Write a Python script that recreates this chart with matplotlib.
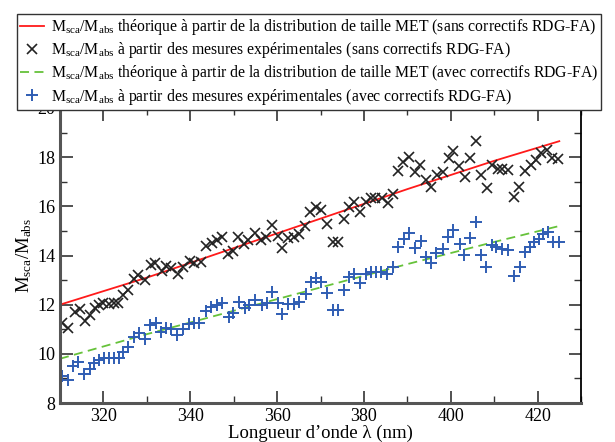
import numpy as np
import matplotlib
matplotlib.use('Agg')
import matplotlib.pyplot as plt
from matplotlib.ticker import MultipleLocator

plt.rcParams['font.family'] = ['Liberation Serif', 'DejaVu Serif']
plt.rcParams['mathtext.fontset'] = 'custom'
plt.rcParams['mathtext.rm'] = 'Liberation Serif'
plt.rcParams['mathtext.it'] = 'Liberation Serif:italic'

# courbes theoriques (distribution de taille MET)
lam_th = [310, 330, 350, 370, 390, 410, 425]
th_sans = [12.0, 13.1, 14.3, 15.5, 16.7, 17.85, 18.65]
th_avec = [9.8, 10.8, 11.75, 12.7, 13.65, 14.55, 15.2]

# mesures experimentales sans correctifs
lam_sans = [310.5, 311.9, 313.5, 314.5, 315.8, 316.9, 318.0, 319.0, 320.0, 321.3,
            322.4, 323.4, 324.6, 325.7, 327.1, 328.0, 329.6, 330.9, 331.9, 333.4,
            334.4, 335.6, 337.1, 338.4, 340.0, 340.9, 342.4, 343.6, 345.0, 346.1,
            347.3, 348.8, 349.9, 351.1, 352.4, 353.4, 354.9, 356.2, 357.4, 358.8,
            360.1, 361.2, 362.6, 363.8, 365.1, 366.5, 367.6, 368.9, 370.1, 371.4,
            372.8, 374.0, 375.3, 376.6, 377.8, 379.1, 380.4, 381.6, 382.6, 384.1,
            385.5, 386.6, 387.9, 389.1, 390.4, 391.8, 393.0, 394.3, 395.5, 396.9,
            398.1, 399.5, 400.6, 401.9, 403.3, 404.5, 405.8, 407.0, 408.3, 409.6,
            410.8, 411.9, 413.3, 414.6, 415.8, 417.1, 418.5, 419.6, 420.8, 422.1,
            423.4, 424.8]
exp_sans = [11.26, 11.05, 11.71, 11.83, 11.35, 11.56, 11.86, 12.0, 12.08, 12.02,
            12.05, 12.08, 12.4, 12.6, 13.03, 13.2, 13.0, 13.6, 13.7, 13.38,
            13.58, 13.5, 13.24, 13.52, 13.77, 13.68, 13.74, 14.39, 14.49, 14.63,
            14.76, 14.06, 14.2, 14.76, 14.46, 14.63, 14.9, 14.63, 14.76, 15.24,
            14.79, 14.31, 14.73, 14.76, 14.87, 15.2, 15.78, 15.96, 15.85, 15.3,
            14.56, 14.56, 15.48, 15.96, 16.18, 15.78, 16.18, 16.32, 16.35, 16.35,
            16.14, 16.5, 17.44, 17.81, 17.99, 17.4, 17.67, 17.07, 16.8, 17.27,
            17.4, 17.95, 18.26, 17.65, 17.2, 17.95, 18.66, 17.27, 16.73, 17.67,
            17.51, 17.51, 17.47, 16.36, 16.8, 17.43, 17.7, 17.88, 18.18, 18.3,
            17.95, 17.92]

# mesures experimentales avec correctifs
lam_avec = [310.4, 311.9, 313.1, 314.2, 315.5, 316.8, 317.9, 319.0, 320.2, 321.4,
            322.4, 323.6, 324.6, 325.7, 327.1, 328.2, 329.6, 330.7, 332.0, 333.3,
            334.4, 335.6, 336.9, 338.3, 339.6, 340.9, 342.1, 343.6, 344.7, 346.1,
            347.3, 348.9, 349.9, 351.2, 352.6, 353.6, 354.9, 356.5, 357.6, 358.8,
            360.1, 361.2, 362.6, 363.8, 365.1, 366.6, 367.8, 368.9, 370.1, 371.6,
            372.8, 374.1, 375.4, 376.6, 377.8, 379.1, 380.4, 381.6, 382.7, 383.9,
            385.3, 386.6, 387.9, 389.3, 390.3, 391.7, 393.1, 394.2, 395.5, 396.7,
            398.1, 399.4, 400.6, 402.1, 403.1, 404.4, 405.8, 406.9, 408.2, 409.4,
            410.5, 411.7, 413.1, 414.6, 415.9, 417.2, 418.2, 419.2, 420.3, 421.3,
            422.3, 423.6, 424.9]
exp_avec = [9.11, 8.93, 9.52, 9.68, 9.18, 9.37, 9.61, 9.75, 9.82, 9.82,
            9.82, 9.82, 10.09, 10.29, 10.67, 10.83, 10.59, 11.17, 11.26, 10.9,
            11.04, 11.0, 10.76, 11.0, 11.21, 11.24, 11.24, 11.75, 11.89, 11.98,
            12.08, 11.51, 11.67, 12.12, 11.85, 11.98, 12.19, 11.98, 12.08, 12.5,
            12.08, 11.62, 12.01, 12.01, 12.12, 12.43, 12.93, 13.07, 12.93, 12.46,
            11.78, 11.78, 12.59, 13.11, 13.24, 12.89, 13.24, 13.34, 13.34, 13.34,
            13.24, 13.54, 14.35, 14.69, 14.9, 14.29, 14.6, 13.95, 13.68, 14.09,
            14.25, 14.76, 15.03, 14.45, 14.04, 14.72, 15.37, 14.04, 13.54, 14.42,
            14.35, 14.26, 14.22, 13.18, 13.54, 14.15, 14.35, 14.53, 14.69, 14.86,
            14.94, 14.53, 14.53]

ratio = r'M$_{\rm sca}$/M$_{\rm abs}$'

fig = plt.figure(figsize=(6.15, 4.42), dpi=100)
ax = fig.add_axes([60/615, 1-403/442, 521/615, 295/442])

ax.plot(lam_th, th_sans, color='#ff1a1a', lw=1.3,
        label=ratio + ' théorique à partir de la distribution de taille MET (sans correctifs RDG-FA)')
ax.plot(lam_sans, exp_sans, 'x', color='#222222', ms=6.5, mew=1.2, ls='none',
        label=ratio + ' à partir des mesures expérimentales (sans correctifs RDG-FA)')
ax.plot(lam_th, th_avec, '--', color='#66c23a', lw=1.3, dashes=(5, 3),
        label=ratio + ' théorique à partir de la distribution de taille MET (avec correctifs RDG-FA)')
ax.plot(lam_avec, exp_avec, '+', color='#2f5db3', ms=8, mew=1.4, ls='none',
        label=ratio + ' à partir des mesures expérimentales (avec correctifs RDG-FA)')

ax.set_xlim(310, 430)
ax.set_ylim(8, 20)
ax.xaxis.set_major_locator(MultipleLocator(20))
ax.xaxis.set_minor_locator(MultipleLocator(10))
ax.yaxis.set_major_locator(MultipleLocator(2))
ax.yaxis.set_minor_locator(MultipleLocator(1))
ax.tick_params(which='both', direction='in', top=True, right=True, labelsize=13, colors='#333333')
ax.tick_params(which='major', length=9, width=1.2)
ax.tick_params(which='minor', length=5, width=1.0)
for lab in ax.get_xticklabels() + ax.get_yticklabels():
    lab.set_color('black')
for s in ['left', 'bottom']:
    ax.spines[s].set_linewidth(2.2)
    ax.spines[s].set_color('#555555')
ax.spines['right'].set_linewidth(1.3)
ax.spines['top'].set_linewidth(1.3)

ax.set_xlabel('Longueur d’onde λ (nm)', fontsize=13.5, labelpad=0)
ax.set_ylabel(ratio, fontsize=13.5, labelpad=2)

leg = ax.legend(loc='upper left', bbox_to_anchor=(17/615, 1-14/442), bbox_transform=fig.transFigure,
                fontsize=11.3, frameon=True, fancybox=False, borderaxespad=0, handlelength=1.5,
                handletextpad=0.45, labelspacing=0.2, borderpad=0.2)
leg.get_frame().set_edgecolor('#333333')
leg.get_frame().set_linewidth(1.0)
leg.get_frame().set_alpha(1)

fig.savefig('out.png', dpi=100)
